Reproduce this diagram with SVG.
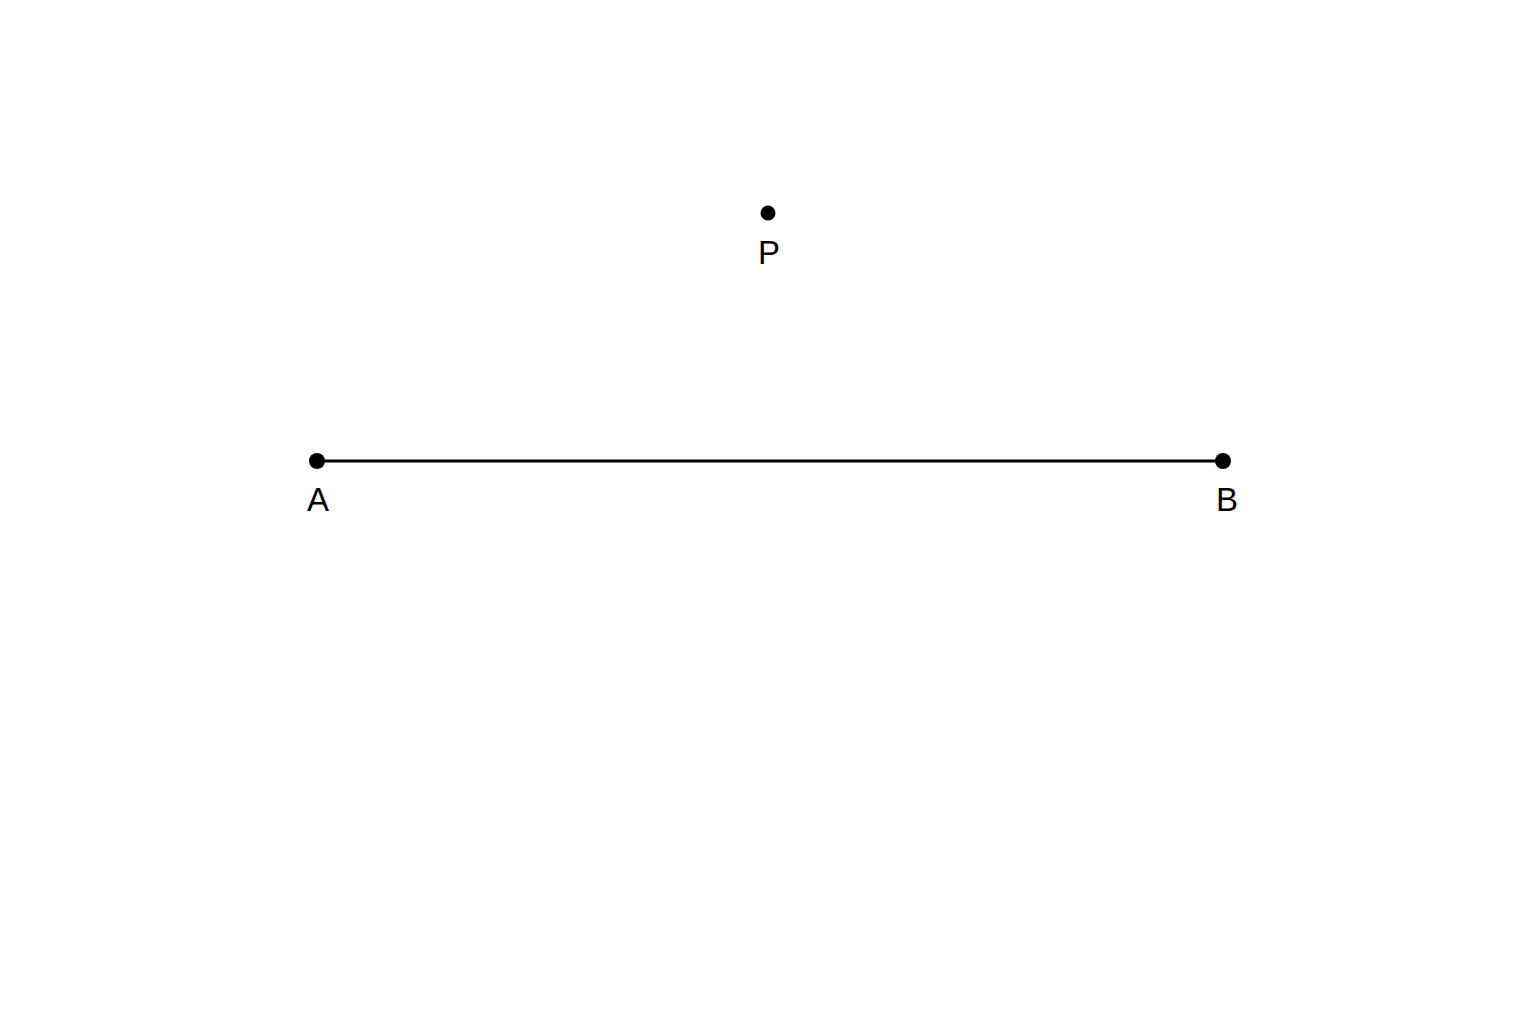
<svg xmlns="http://www.w3.org/2000/svg" width="1536" height="1024" viewBox="0 0 1536 1024">
<style>
.pt{fill:#000}
.lbl{font-family:"Liberation Sans",Arial,sans-serif;font-size:33px;fill:#000;text-anchor:middle}
</style>
<rect width="1536" height="1024" fill="#fff"/>
<g id="connectors">
<line x1="317" y1="461" x2="1223" y2="461" stroke="#000" stroke-width="3"/>
</g>
<g id="A"><circle class="pt" cx="317" cy="461" r="8"/><text class="lbl" x="318" y="511">A</text></g>
<g id="B"><circle class="pt" cx="1223" cy="461" r="8"/><text class="lbl" x="1227" y="511">B</text></g>
<g id="P"><circle class="pt" cx="768" cy="213" r="7.5"/><text class="lbl" x="769" y="264">P</text></g>
</svg>
